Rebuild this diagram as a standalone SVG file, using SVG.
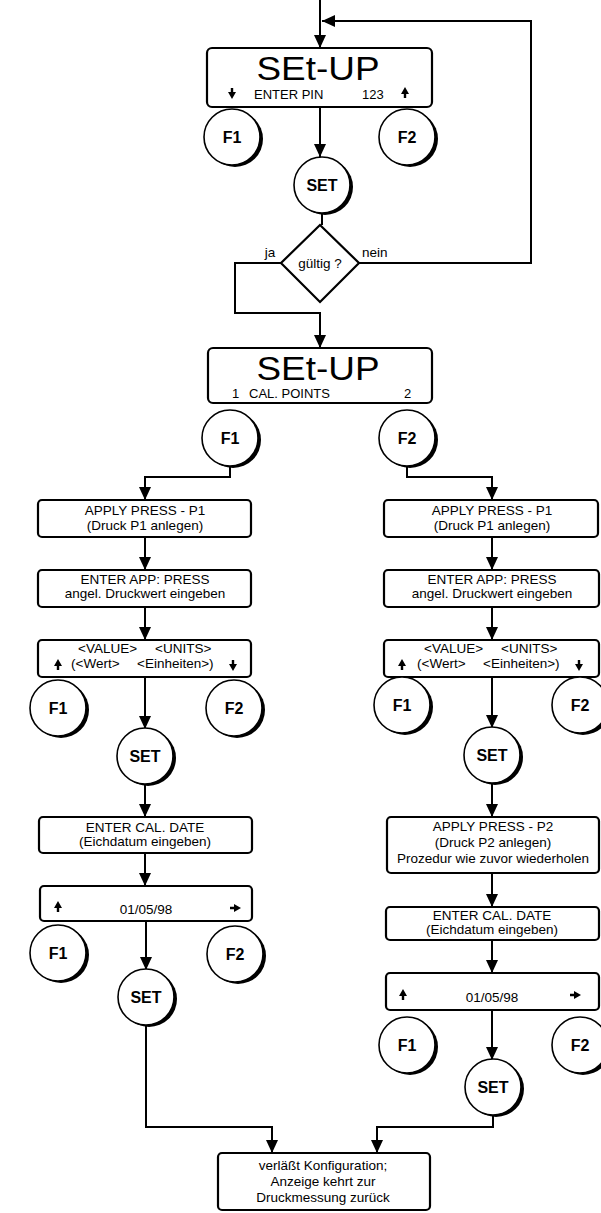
<svg xmlns="http://www.w3.org/2000/svg" xmlns:xlink="http://www.w3.org/1999/xlink" width="601" height="1213" viewBox="0 0 601 1213">
<style>
.t{font-family:"Liberation Sans",Arial,sans-serif;font-size:13.5px;text-anchor:middle;fill:#000}
.s{text-anchor:start}
.b{font-weight:bold;font-size:16px}
.l2{font-size:13px}
.d{font-family:"Liberation Sans",Arial,sans-serif;font-size:34px;text-anchor:middle;fill:#000}
.box{fill:#fff;stroke:#000;stroke-width:2.2}
.ln{fill:none;stroke:#000;stroke-width:2}
</style>
<defs>
<marker id="ah" markerUnits="userSpaceOnUse" markerWidth="14" markerHeight="12" refX="13" refY="6" orient="auto">
<path d="M0,0 L13,6 L0,12 Z" fill="#000"/>
</marker>
<g id="btn"><circle cx="3" cy="2" r="28" fill="#000"/><circle r="28" fill="#fff" stroke="#000" stroke-width="1.6"/></g>
<path id="up" d="M0,-6 L4,1 L1.2,1 L1.2,5 L-1.2,5 L-1.2,1 L-4,1 Z" fill="#000"/>
</defs>
<rect width="601" height="1213" fill="#fff"/>

<g id="connectors" class="ln" marker-end="url(#ah)">
<path d="M320,0 V48"/>
<path d="M359,263 H531 V21 H322"/>
<path d="M320,107 V157"/>
<path d="M322,213 V225" marker-end="none"/>
<path d="M281,263 H235 V313 H320 V348"/>
<path d="M230,466 V477 H145 V500"/>
<path d="M407,466 V477 H492 V500"/>
<path d="M145,537 V570"/>
<path d="M145,607 V640"/>
<path d="M145,677 V729"/>
<path d="M145,783 V817"/>
<path d="M145,853 V886"/>
<path d="M146,921 V970"/>
<path d="M146,1024 V1127 H272 V1153"/>
<path d="M492,537 V570"/>
<path d="M492,607 V640"/>
<path d="M492,677 V728"/>
<path d="M492,782 V817"/>
<path d="M492,873 V907"/>
<path d="M492,940 V973"/>
<path d="M492,1010 V1060"/>
<path d="M493,1114 V1127 H377 V1153"/>
</g>

<g id="display1">
<rect class="box" x="207" y="48" width="225" height="59" rx="5"/>
<text class="d" x="318" y="80" textLength="123" lengthAdjust="spacingAndGlyphs">SEt-UP</text>
<use xlink:href="#up" transform="translate(232,93) rotate(180)"/>
<text class="t s l2" x="254" y="99">ENTER PIN</text>
<text class="t s l2" x="362" y="99">123</text>
<use xlink:href="#up" x="405" y="93"/>
</g>
<g id="f1-top"><use xlink:href="#btn" x="232" y="137"/><text class="t b" x="232" y="143">F1</text></g>
<g id="f2-top"><use xlink:href="#btn" x="407" y="137"/><text class="t b" x="407" y="143">F2</text></g>
<g id="set-top"><use xlink:href="#btn" x="322" y="185"/><text class="t b" x="322" y="191">SET</text></g>

<g id="decision">
<polygon points="320,225 359,263 320,302 281,263" fill="#fff" stroke="#000" stroke-width="2.2"/>
<text class="t" x="320" y="268">gültig ?</text>
<text class="t" x="270" y="257">ja</text>
<text class="t s" x="362" y="257">nein</text>
</g>

<g id="display2">
<rect class="box" x="208" y="348" width="224" height="55" rx="5"/>
<text class="d" x="318" y="380" textLength="123" lengthAdjust="spacingAndGlyphs">SEt-UP</text>
<text class="t s l2" x="232" y="398">1</text>
<text class="t s l2" x="249" y="398">CAL. POINTS</text>
<text class="t s l2" x="404" y="398">2</text>
</g>
<g id="f1-cal"><use xlink:href="#btn" x="230" y="438"/><text class="t b" x="230" y="444">F1</text></g>
<g id="f2-cal"><use xlink:href="#btn" x="407" y="438"/><text class="t b" x="407" y="444">F2</text></g>

<!-- left column -->
<g id="l-apply-p1">
<rect class="box" x="38" y="500" width="213" height="37" rx="4"/>
<text class="t" x="145" y="515">APPLY PRESS - P1</text>
<text class="t" x="145" y="530">(Druck P1 anlegen)</text>
</g>
<g id="l-enter-app">
<rect class="box" x="38" y="570" width="213" height="37" rx="4"/>
<text class="t" x="145" y="584">ENTER APP: PRESS</text>
<text class="t" x="145" y="598">angel. Druckwert  eingeben</text>
</g>
<g id="l-value">
<rect class="box" x="38" y="640" width="213" height="37" rx="4"/>
<text class="t s" x="78" y="653">&lt;VALUE&gt;</text>
<text class="t s" x="155" y="653">&lt;UNITS&gt;</text>
<text class="t s" x="71" y="668">(&lt;Wert&gt;</text>
<text class="t s" x="137" y="668">&lt;Einheiten&gt;)</text>
<use xlink:href="#up" x="58" y="665"/>
<use xlink:href="#up" transform="translate(233,665) rotate(180)"/>
</g>
<g id="l-f1a"><use xlink:href="#btn" x="58" y="708"/><text class="t b" x="58" y="714">F1</text></g>
<g id="l-f2a"><use xlink:href="#btn" x="234" y="708"/><text class="t b" x="234" y="714">F2</text></g>
<g id="l-seta"><use xlink:href="#btn" x="145" y="756"/><text class="t b" x="145" y="762">SET</text></g>
<g id="l-date">
<rect class="box" x="39" y="817" width="213" height="36" rx="4"/>
<text class="t" x="145" y="832">ENTER CAL. DATE</text>
<text class="t" x="145" y="846">(Eichdatum eingeben)</text>
</g>
<g id="l-dateval">
<rect class="box" x="40" y="886" width="212" height="35" rx="4"/>
<text class="t" x="146" y="914">01/05/98</text>
<use xlink:href="#up" x="58" y="907"/>
<use xlink:href="#up" transform="translate(235,908) rotate(90)"/>
</g>
<g id="l-f1b"><use xlink:href="#btn" x="58" y="953"/><text class="t b" x="58" y="959">F1</text></g>
<g id="l-f2b"><use xlink:href="#btn" x="235" y="954"/><text class="t b" x="235" y="960">F2</text></g>
<g id="l-setb"><use xlink:href="#btn" x="146" y="997"/><text class="t b" x="146" y="1003">SET</text></g>

<!-- right column -->
<g id="r-apply-p1">
<rect class="box" x="384" y="500" width="214" height="37" rx="4"/>
<text class="t" x="492" y="515">APPLY PRESS - P1</text>
<text class="t" x="492" y="530">(Druck P1 anlegen)</text>
</g>
<g id="r-enter-app">
<rect class="box" x="384" y="570" width="215" height="37" rx="4"/>
<text class="t" x="492" y="584">ENTER APP: PRESS</text>
<text class="t" x="492" y="598">angel. Druckwert  eingeben</text>
</g>
<g id="r-value">
<rect class="box" x="384" y="640" width="215" height="37" rx="4"/>
<text class="t s" x="424" y="653">&lt;VALUE&gt;</text>
<text class="t s" x="501" y="653">&lt;UNITS&gt;</text>
<text class="t s" x="417" y="668">(&lt;Wert&gt;</text>
<text class="t s" x="483" y="668">&lt;Einheiten&gt;)</text>
<use xlink:href="#up" x="402" y="665"/>
<use xlink:href="#up" transform="translate(579,665) rotate(180)"/>
</g>
<g id="r-f1a"><use xlink:href="#btn" x="402" y="705"/><text class="t b" x="402" y="711">F1</text></g>
<g id="r-f2a"><use xlink:href="#btn" x="580" y="705"/><text class="t b" x="580" y="711">F2</text></g>
<g id="r-seta"><use xlink:href="#btn" x="492" y="755"/><text class="t b" x="492" y="761">SET</text></g>
<g id="r-apply-p2">
<rect class="box" x="387" y="817" width="212" height="56" rx="4"/>
<text class="t" x="493" y="831">APPLY PRESS - P2</text>
<text class="t" x="493" y="847">(Druck P2 anlegen)</text>
<text class="t" x="493" y="863">Prozedur wie zuvor wiederholen</text>
</g>
<g id="r-date">
<rect class="box" x="386" y="907" width="213" height="33" rx="4"/>
<text class="t" x="492" y="920">ENTER CAL. DATE</text>
<text class="t" x="492" y="934">(Eichdatum eingeben)</text>
</g>
<g id="r-dateval">
<rect class="box" x="386" y="973" width="213" height="37" rx="4"/>
<text class="t" x="492" y="1002">01/05/98</text>
<use xlink:href="#up" x="403" y="995"/>
<use xlink:href="#up" transform="translate(575,995) rotate(90)"/>
</g>
<g id="r-f1b"><use xlink:href="#btn" x="407" y="1045"/><text class="t b" x="407" y="1051">F1</text></g>
<g id="r-f2b"><use xlink:href="#btn" x="580" y="1045"/><text class="t b" x="580" y="1051">F2</text></g>
<g id="r-setb"><use xlink:href="#btn" x="493" y="1087"/><text class="t b" x="493" y="1093">SET</text></g>

<g id="exit">
<rect class="box" x="218" y="1153" width="212" height="57" rx="4"/>
<text class="t" x="323" y="1170">verläßt Konfiguration;</text>
<text class="t" x="323" y="1186">Anzeige kehrt zur</text>
<text class="t" x="323" y="1202">Druckmessung zurück</text>
</g>
</svg>
